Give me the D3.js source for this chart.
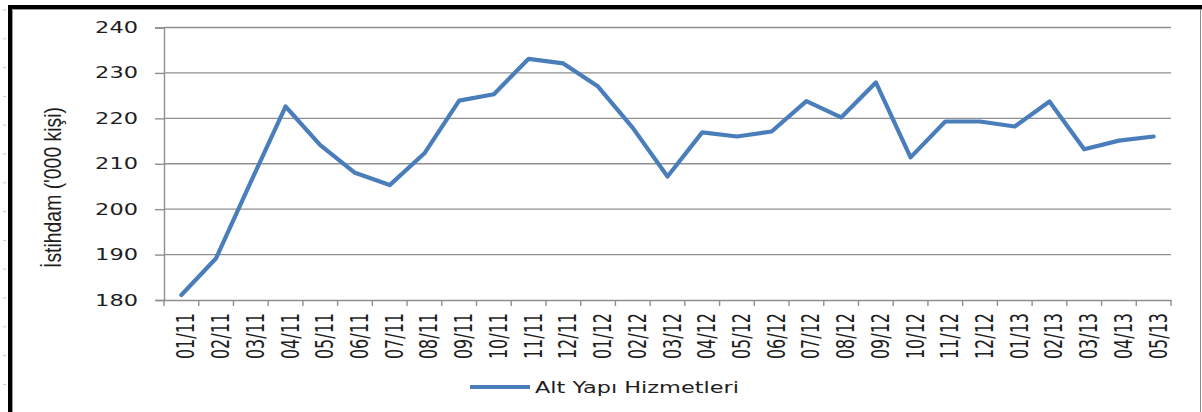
<!DOCTYPE html>
<html>
<head>
<meta charset="utf-8">
<script src="https://cdn.jsdelivr.net/npm/d3@7"></script>
<style>
  html, body { margin: 0; padding: 0; background: #fff; }
  svg { display: block; }
</style>
</head>
<body>
<svg id="chart" width="1202" height="412"></svg>
<script>
// ---- data ----
const categories = ["01/11","02/11","03/11","04/11","05/11","06/11","07/11","08/11","09/11","10/11","11/11","12/11",
                    "01/12","02/12","03/12","04/12","05/12","06/12","07/12","08/12","09/12","10/12","11/12","12/12",
                    "01/13","02/13","03/13","04/13","05/13"];
const values = [181.1, 189.2, 206, 222.6, 214.1, 208, 205.3, 212.3, 223.9, 225.3, 233.1, 232.1,
                227, 217.9, 207.2, 216.9, 216, 217.1, 223.8, 220.2, 227.9, 211.4, 219.3, 219.3,
                218.2, 223.7, 213.2, 215.1, 216];
const yTicks = [180, 190, 200, 210, 220, 230, 240];
const seriesName = "Alt Yapı Hizmetleri";
const yTitle = "İstihdam ('000 kişi)";

// ---- layout ----
const svg = d3.select("#chart");
const plot = { left: 164, right: 1171, top: 27.5, bottom: 300 };
const lineColor = "#4a7ebb";
const gridColor = "#8f8f8f";
const textColor = "#1e1e1e";

// frame
svg.append("rect").attr("x", 0).attr("y", 0).attr("width", 1202).attr("height", 412).attr("fill", "#fff");
svg.append("line").attr("x1", 10).attr("x2", 10).attr("y1", 5).attr("y2", 412)
  .attr("stroke", "#000").attr("stroke-width", 4);
svg.append("line").attr("x1", 8).attr("x2", 1202).attr("y1", 7).attr("y2", 7)
  .attr("stroke", "#000").attr("stroke-width", 4);
svg.append("line").attr("x1", 12.5).attr("x2", 1202).attr("y1", 9.5).attr("y2", 9.5)
  .attr("stroke", "#9a9a9a").attr("stroke-width", 1);
svg.append("line").attr("x1", 12.5).attr("x2", 12.5).attr("y1", 9.5).attr("y2", 412)
  .attr("stroke", "#9a9a9a").attr("stroke-width", 1);
svg.append("line").attr("x1", 1200.5).attr("x2", 1200.5).attr("y1", 9.5).attr("y2", 412)
  .attr("stroke", "#8a8a8a").attr("stroke-width", 1);
// faint ruler marks at far left
svg.append("g").selectAll("line").data(d3.range(10, 412, 28.8)).join("line")
  .attr("x1", 3).attr("x2", 6).attr("y1", d => d).attr("y2", d => d)
  .attr("stroke", "#c8c8c8").attr("stroke-width", 1);

// scales
const x = d3.scaleBand().domain(categories).range([plot.left, plot.right]).padding(0);
const y = d3.scaleLinear().domain([180, 240]).range([plot.bottom, plot.top]);

// gridlines
svg.append("g").selectAll("line").data(yTicks.filter(v => v !== 180)).join("line")
  .attr("x1", plot.left).attr("x2", plot.right)
  .attr("y1", d => y(d)).attr("y2", d => y(d))
  .attr("stroke", gridColor).attr("stroke-width", 1.4);

// y axis
const yAxis = svg.append("g").attr("transform", `translate(${plot.left},0)`)
  .call(d3.axisLeft(y).tickValues(yTicks).tickSize(9).tickFormat(""));
yAxis.select(".domain").attr("stroke", gridColor).attr("stroke-width", 1.4);
yAxis.selectAll(".tick line").attr("stroke", gridColor).attr("stroke-width", 1.4);

// y labels
svg.append("g").selectAll("text").data(yTicks).join("text")
  .attr("transform", d => `translate(138,${y(d)}) scale(1.45,1)`)
  .attr("dy", "0.36em")
  .attr("text-anchor", "end")
  .attr("font-family", "'DejaVu Sans', Verdana, sans-serif")
  .attr("font-size", 15.5)
  .attr("fill", textColor)
  .text(d => d);

// x axis
const xAxis = svg.append("g").attr("transform", `translate(0,${plot.bottom})`)
  .call(d3.axisBottom(x).tickSize(0).tickFormat(""));
xAxis.select(".domain").attr("stroke", gridColor).attr("stroke-width", 1.4);
xAxis.selectAll(".tick").remove();
const bounds = categories.map(c => x(c)).concat([x(categories[categories.length - 1]) + x.bandwidth()]);
svg.append("g").selectAll("line").data(bounds).join("line")
  .attr("x1", d => d).attr("x2", d => d)
  .attr("y1", plot.bottom).attr("y2", plot.bottom + 6)
  .attr("stroke", gridColor).attr("stroke-width", 1.4);

// x labels
svg.append("g").selectAll("text").data(categories).join("text")
  .attr("transform", d => `translate(${x(d) + x.bandwidth() / 2 + 13},313) scale(1.5,1) rotate(-90)`)
  .attr("text-anchor", "end")
  .attr("font-family", "'DejaVu Sans', Verdana, sans-serif")
  .attr("font-size", 16)
  .attr("fill", textColor)
  .text(d => d);

// y title
svg.append("text")
  .attr("transform", `translate(61,187.5) scale(1.45,1) rotate(-90)`)
  .attr("text-anchor", "middle")
  .attr("font-family", "'Liberation Sans', Arial, sans-serif")
  .attr("font-size", 16)
  .attr("textLength", 161)
  .attr("lengthAdjust", "spacingAndGlyphs")
  .attr("fill", textColor)
  .text(yTitle);

// series line
const line = d3.line()
  .x((d, i) => x(categories[i]) + x.bandwidth() / 2)
  .y(d => y(d));
svg.append("path").datum(values)
  .attr("d", line)
  .attr("fill", "none")
  .attr("stroke", lineColor)
  .attr("stroke-width", 4.2)
  .attr("stroke-linejoin", "round")
  .attr("stroke-linecap", "round");

// legend
const legend = svg.append("g");
legend.append("line").attr("x1", 470).attr("x2", 530).attr("y1", 387).attr("y2", 387)
  .attr("stroke", lineColor).attr("stroke-width", 4.2);
legend.append("text")
  .attr("transform", "translate(535,387) scale(1.4,1)")
  .attr("dy", "0.36em")
  .attr("font-family", "'DejaVu Sans', Verdana, sans-serif")
  .attr("font-size", 16)
  .attr("fill", textColor)
  .text(seriesName);
</script>
</body>
</html>
